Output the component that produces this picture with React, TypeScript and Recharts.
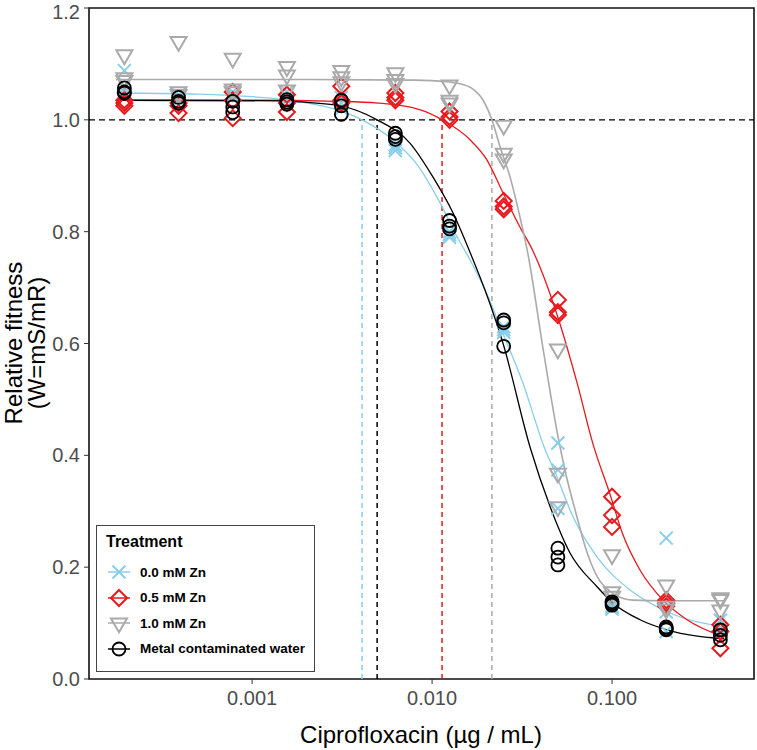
import {
  ComposedChart,
  XAxis,
  YAxis,
  Scatter,
  Line,
  ReferenceLine,
  ReferenceArea,
  Label
} from "recharts"

const FONT = '"Liberation Sans", Arial, Helvetica, sans-serif'

// ciprofloxacin concentrations (2-fold dilutions)
const concentrations = [
  0.000195, 0.00039, 0.00078, 0.00156, 0.00313, 0.00625, 0.0125, 0.025, 0.05,
  0.1, 0.2, 0.4
]

// three replicates per concentration
const zn00 = [
  [1.088, 1.05, 1.045],
  [1.045, 1.04, 1.035],
  [1.05, 1.045, 1.04],
  [1.05, 1.04, 1.035],
  [1.04, 1.03, 1.02],
  [0.95, 0.945, 0.955],
  [0.795, 0.8, 0.79],
  [0.63, 0.625, 0.62],
  [0.422, 0.374, 0.305],
  [0.13, 0.128, 0.125],
  [0.252, 0.12, 0.085],
  [0.105, 0.09, 0.085]
]
const zn05 = [
  [1.03, 1.025, 1.035],
  [1.03, 1.025, 1.012],
  [1.05, 1.035, 1.003],
  [1.045, 1.03, 1.014],
  [1.06, 1.035, 1.03],
  [1.048, 1.04, 1.035],
  [1.015, 1.005, 1.0],
  [0.855, 0.845, 0.84],
  [0.678, 0.656, 0.651],
  [0.326, 0.293, 0.272],
  [0.141, 0.136, 0.13],
  [0.097, 0.085, 0.055]
]
const zn10 = [
  [1.116, 1.075, 1.07],
  [1.14, 1.05, 1.045],
  [1.11, 1.055, 1.05],
  [1.095, 1.08, 1.053],
  [1.088, 1.077, 1.068],
  [1.084, 1.072, 1.065],
  [1.062, 1.035, 1.03],
  [0.99, 0.94, 0.93],
  [0.59, 0.368, 0.308],
  [0.222, 0.156, 0.148],
  [0.168, 0.13, 0.125],
  [0.145, 0.142, 0.123]
]
const metalWater = [
  [1.057, 1.048, 1.05],
  [1.04, 1.033, 1.03],
  [1.033, 1.023, 1.013],
  [1.036, 1.032, 1.028],
  [1.035, 1.025, 1.01],
  [0.976, 0.965, 0.97],
  [0.82, 0.81, 0.805],
  [0.642, 0.637, 0.595],
  [0.234, 0.218, 0.204],
  [0.138, 0.135, 0.132],
  [0.093, 0.09, 0.088],
  [0.088, 0.078, 0.07]
]

// fitted dose-response curves
const fit00X = [0.000175, 0.0005, 0.0015, 0.00185, 0.0031, 0.00408, 0.00607, 0.00826, 0.0111, 0.0138, 0.0163, 0.0202, 0.0239, 0.032, 0.0425, 0.0482, 0.0607, 0.0826, 0.126, 0.21, 0.42]
const fit00Y = [1.048, 1.046, 1.036, 1.032, 1.016, 1.0, 0.964, 0.92, 0.851, 0.79, 0.749, 0.688, 0.63, 0.529, 0.41, 0.37, 0.29, 0.218, 0.159, 0.118, 0.093]
const fit05X = [0.000175, 0.001, 0.003, 0.005, 0.0086, 0.0114, 0.0163, 0.0202, 0.0248, 0.0308, 0.0364, 0.05, 0.064, 0.0784, 0.0975, 0.115, 0.143, 0.192, 0.261, 0.42]
const fit05Y = [1.035, 1.035, 1.033, 1.03, 1.018, 1.0, 0.964, 0.928, 0.869, 0.808, 0.765, 0.647, 0.529, 0.42, 0.33, 0.258, 0.195, 0.141, 0.106, 0.075]
const fit10X = [0.000175, 0.002, 0.008, 0.012, 0.0145, 0.0165, 0.0192, 0.0215, 0.0239, 0.0271, 0.0308, 0.0341, 0.0414, 0.05, 0.056, 0.063, 0.071, 0.083, 0.1, 0.13, 0.2, 0.42]
const fit10Y = [1.072, 1.072, 1.071, 1.068, 1.064, 1.057, 1.035, 1.0, 0.951, 0.898, 0.826, 0.76, 0.59, 0.435, 0.36, 0.297, 0.236, 0.182, 0.154, 0.141, 0.14, 0.14]
const fitMwX = [0.000175, 0.0015, 0.00185, 0.0031, 0.00495, 0.00755, 0.0101, 0.0131, 0.0163, 0.0205, 0.0248, 0.035, 0.0453, 0.0585, 0.0826, 0.101, 0.143, 0.202, 0.42]
const fitMwY = [1.035, 1.034, 1.032, 1.025, 1.0, 0.958, 0.898, 0.833, 0.762, 0.68, 0.6, 0.415, 0.308, 0.225, 0.165, 0.136, 0.106, 0.088, 0.072]

// concentration where each curve crosses W = 1
const crossings = [0.00408, 0.00495, 0.01136, 0.0215]

const xTicks = [0.001, 0.01, 0.1]
const yTicks = [0, 0.2, 0.4, 0.6, 0.8, 1.0, 1.2]

const treatments = [
  { name: "0.0 mM Zn", color: "#87CEEB", shape: "cross", reps: zn00, fx: fit00X, fy: fit00Y, cross: crossings[0] },
  { name: "0.5 mM Zn", color: "#E8191C", shape: "diamond", reps: zn05, fx: fit05X, fy: fit05Y, cross: crossings[2] },
  { name: "1.0 mM Zn", color: "#AAAAAA", shape: "triangle", reps: zn10, fx: fit10X, fy: fit10Y, cross: crossings[3] },
  { name: "Metal contaminated water", color: "#000000", shape: "circle", reps: metalWater, fx: fitMwX, fy: fitMwY, cross: crossings[1] }
]

const toPoints = (reps: number[][]) =>
  reps.flatMap((r, i) => r.map((y) => ({ x: concentrations[i], y })))

const toCurve = (xs: number[], ys: number[]) => xs.map((x, i) => ({ x, y: ys[i] }))

const Marker = ({ cx, cy, shape, color }: any) => {
  if (cx == null || cy == null) return null
  if (shape === "cross") {
    const d = 6.5
    return (
      <g stroke={color} strokeWidth={2}>
        <line x1={cx - d} y1={cy - d} x2={cx + d} y2={cy + d} />
        <line x1={cx - d} y1={cy + d} x2={cx + d} y2={cy - d} />
      </g>
    )
  }
  if (shape === "diamond") {
    const d = 8
    return (
      <polygon
        points={`${cx},${cy - d} ${cx + d},${cy} ${cx},${cy + d} ${cx - d},${cy}`}
        fill="none"
        stroke={color}
        strokeWidth={2}
      />
    )
  }
  if (shape === "triangle") {
    return (
      <polygon
        points={`${cx - 8},${cy - 4.6} ${cx + 8},${cy - 4.6} ${cx},${cy + 9.2}`}
        fill="none"
        stroke={color}
        strokeWidth={2}
      />
    )
  }
  return <circle cx={cx} cy={cy} r={6.5} fill="none" stroke={color} strokeWidth={1.8} />
}

const XTitle = () => (
  <text x={421} y={743} textAnchor="middle" fontSize={24} fontFamily={FONT} fill="#000">
    Ciprofloxacin (µg / mL)
  </text>
)

const YTitle = () => (
  <g fontSize={24} fontFamily={FONT} fill="#000">
    <text transform="translate(22, 343) rotate(-90)" textAnchor="middle">
      Relative fitness
    </text>
    <text transform="translate(45, 343) rotate(-90)" textAnchor="middle">
      (W=mS/mR)
    </text>
  </g>
)

const LegendBox = () => (
  <div
    style={{
      position: "absolute",
      left: 96,
      top: 525,
      width: 219,
      height: 147,
      border: "1px solid #444",
      background: "#fff",
      fontFamily: FONT,
      boxSizing: "border-box"
    }}
  >
    <div style={{ position: "absolute", left: 9, top: 7, fontSize: 16, fontWeight: "bold" }}>
      Treatment
    </div>
    {treatments.map((t, i) => (
      <div
        key={t.name}
        style={{ position: "absolute", left: 8, top: 35 + i * 25.5, height: 22, display: "flex", alignItems: "center" }}
      >
        <svg width={28} height={22}>
          <line x1={3} y1={11} x2={25} y2={11} stroke={t.color} strokeWidth={1.5} />
          <Marker cx={14} cy={11} shape={t.shape} color={t.color} />
        </svg>
        <span style={{ marginLeft: 7, fontSize: 13.5, fontWeight: "bold" }}>{t.name}</span>
      </div>
    ))}
  </div>
)

const tickStyle = { fill: "#4D4D4D", fontSize: 20, fontFamily: FONT }

export default function App() {
  return (
    <div style={{ position: "absolute", left: 0, top: 0, width: 757, height: 750, background: "#fff" }}>
      <ComposedChart width={757} height={750} margin={{ top: 8, right: 3, bottom: 31, left: 0 }}>
        <XAxis
          dataKey="x"
          type="number"
          scale="log"
          domain={[0.000124, 0.615]}
          allowDataOverflow
          ticks={xTicks}
          tickFormatter={(v: number) => v.toFixed(3)}
          tick={tickStyle}
          tickSize={5}
          tickMargin={7}
          axisLine={false}
          tickLine={{ stroke: "#333" }}
          height={40}
        >
          <Label content={XTitle} />
        </XAxis>
        <YAxis
          dataKey="y"
          type="number"
          domain={[0, 1.2]}
          allowDataOverflow
          ticks={yTicks}
          tickFormatter={(v: number) => v.toFixed(1)}
          tick={tickStyle}
          tickSize={5}
          tickMargin={4}
          axisLine={false}
          tickLine={{ stroke: "#333" }}
          width={89}
        >
          <Label content={YTitle} />
        </YAxis>
        <ReferenceLine y={1} stroke="#000" strokeWidth={1.3} strokeDasharray="6 4" />
        {treatments.map((t) => (
          <ReferenceLine
            key={"v" + t.name}
            segment={[
              { x: t.cross, y: 0 },
              { x: t.cross, y: 1 }
            ]}
            stroke={t.color}
            strokeWidth={1.5}
            strokeDasharray="5 4"
          />
        ))}
        {treatments.map((t) => (
          <Scatter
            key={"s" + t.name}
            name={t.name}
            data={toPoints(t.reps)}
            isAnimationActive={false}
            shape={(p: any) => <Marker cx={p.cx} cy={p.cy} shape={t.shape} color={t.color} />}
          />
        ))}
        {treatments.map((t) => (
          <Line
            key={"l" + t.name}
            data={toCurve(t.fx, t.fy)}
            dataKey="y"
            type="monotone"
            stroke={t.color}
            strokeWidth={t.shape === "triangle" ? 1.6 : 1.3}
            dot={false}
            activeDot={false}
            isAnimationActive={false}
          />
        ))}
        <ReferenceArea
          x1={0.000124}
          x2={0.615}
          y1={0}
          y2={1.2}
          fill="none"
          fillOpacity={0}
          stroke="#111"
          strokeWidth={1.6}
        />
      </ComposedChart>
      <LegendBox />
    </div>
  )
}
